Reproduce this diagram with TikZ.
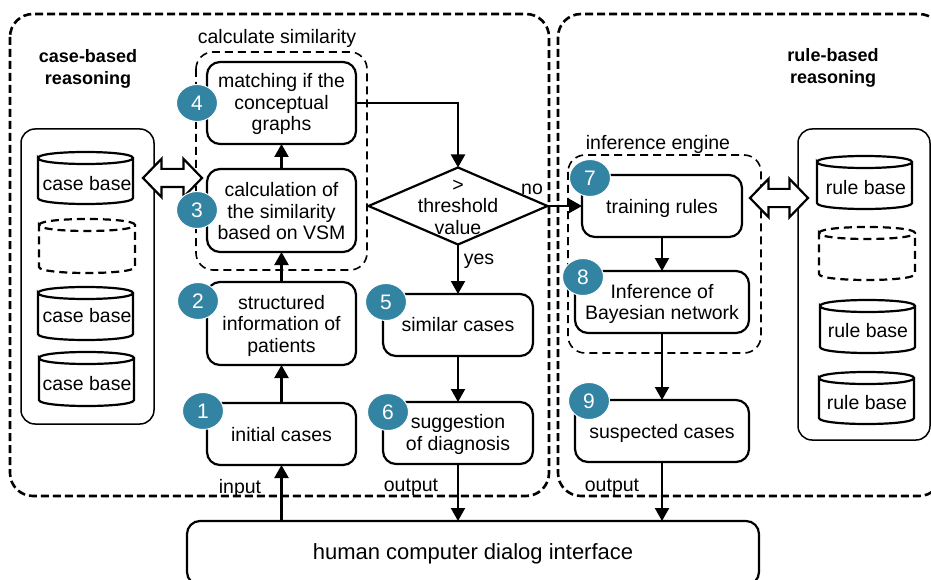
\documentclass[tikz,border=0pt]{standalone}
\usepackage{fontspec}
\setmainfont{Liberation Sans}
\usetikzlibrary{arrows.meta,shapes.geometric,shapes.arrows}
\definecolor{badge}{HTML}{3383A3}
\tikzset{
  rbox/.style={draw=black,line width=2.2pt,rounded corners=13pt,align=center,inner sep=0pt,outer sep=0pt,font=\fontsize{19.5}{21.5}\selectfont},
  txt/.style={align=center,inner sep=0pt,font=\fontsize{19.5}{21.5}\selectfont},
  boldtxt/.style={align=center,inner sep=0pt,font=\fontsize{18}{22}\selectfont\bfseries},
  outerdash/.style={draw=black,line width=2.6pt,rounded corners=23pt,dash pattern=on 8pt off 4pt},
  innerdash/.style={draw=black,line width=1.6pt,rounded corners=17pt,dash pattern=on 8pt off 5pt},
  panel/.style={draw=black,line width=1.5pt,rounded corners=14pt},
  flow/.style={draw=black,line width=2.2pt,-{Triangle[length=13pt,width=14pt]}},
  badgenode/.style={ellipse,fill=badge,draw=white,line width=1pt,minimum width=41pt,minimum height=37pt,inner sep=0pt,text=white,font=\fontsize{21}{24}\selectfont},
  bothways/.style={double arrow,draw=black,fill=white,line width=2.2pt,inner sep=0pt,inner ysep=8pt,minimum height=59pt,minimum width=36pt,double arrow head extend=10pt,double arrow tip angle=92,outer sep=0pt},
  cylsolid/.style={draw=black,line width=2.2pt},
  cyldash/.style={draw=black,line width=2.2pt,dash pattern=on 8pt off 5pt}
}
% x1 x2 y1 y2 style
\newcommand\drum[5]{%
  \draw[#5] (#1,{#3+6}) .. controls (#1,{#3-2}) and (#2,{#3-2}) .. (#2,{#3+6})
     .. controls (#2,{#3+14}) and (#1,{#3+14}) .. (#1,{#3+6})
     -- (#1,{#4-6}) .. controls (#1,{#4+2}) and (#2,{#4+2}) .. (#2,{#4-6}) -- (#2,{#3+6});
}
% push the text of a box down by #1 pt
\newcommand\dn[1]{\rule{0pt}{\dimexpr14.2pt+#1pt*2\relax}}
\begin{document}
\begin{tikzpicture}[x=1pt,y=-1pt]
\clip (0,0) rectangle (931,580);
\fill[white] (0,0) rectangle (931,580);
% outer frames
\draw[outerdash] (10,14) rectangle (549,496);
\draw[outerdash] (558,14) rectangle (942,496);
% inner frames
\draw[innerdash] (196,52) rectangle (367,270);
\draw[innerdash] (568,155) rectangle (761,353);
% panels
\draw[panel] (21,129) rectangle (154,424);
\draw[panel] (798,129) rectangle (930,440);
% drums
\drum{38}{133}{152}{204}{cylsolid}
\drum{39}{135}{219}{273}{cyldash}
\drum{38}{133}{287}{340}{cylsolid}
\drum{39}{134}{352}{406}{cylsolid}
\drum{817}{912}{156}{209}{cylsolid}
\drum{819}{915}{227}{280}{cyldash}
\drum{820}{915}{300}{353}{cylsolid}
\drum{819}{914}{372}{424}{cylsolid}
\node[txt] (cb1) at (87,184) {case base};
\node[txt] (cb2) at (87,316) {case base};
\node[txt] (cb3) at (87,384) {case base};
\node[txt] (rb1) at (866,188) {rule base};
\node[txt] (rb2) at (868,331) {rule base};
\node[txt] (rb3) at (867,403) {rule base};
% boxes
\node[rbox,minimum width=149pt,minimum height=82pt] (b4) at (281.5,103) {\dn{1.3}matching if the\\conceptual\\graphs};
\node[rbox,minimum width=149pt,minimum height=83pt] (b3) at (281.5,210.5) {\dn{0.5}calculation of\\the similarity\\based on VSM};
\node[rbox,minimum width=149pt,minimum height=83pt] (b2) at (281.5,323.5) {\dn{2}structured\\information of\\patients};
\node[rbox,minimum width=149pt,minimum height=62pt] (b1) at (281.5,434) {\dn{0.5}initial cases};
\node[rbox,minimum width=150pt,minimum height=62pt] (b5) at (458,325) {similar cases};
\node[rbox,minimum width=150pt,minimum height=62pt] (b6) at (458,433) {\dn{1.5}suggestion\\of diagnosis};
\node[rbox,minimum width=160pt,minimum height=62pt] (b7) at (662,206) {\dn{2}training rules};
\node[rbox,minimum width=174pt,minimum height=62pt] (b8) at (662,302) {\dn{2}Inference of\\Bayesian network};
\node[rbox,minimum width=174pt,minimum height=62pt] (b9) at (662,431) {\dn{2.5}suspected cases};
\node[rbox,minimum width=572pt,minimum height=64pt,font=\fontsize{22}{26}\selectfont] (iface) at (473,553) {\rule{0pt}{18pt}human computer dialog interface};
\node[diamond,draw=black,line width=2.2pt,minimum width=179pt,minimum height=77pt,inner sep=0pt,outer sep=0pt] (dec) at (458,206) {};
\node[txt] (dectext) at (458,207) {>\\threshold\\value};
% connectors
\draw[flow] (b1.north) -- (b2.south);
\draw[flow] (b2.north) -- (b3.south);
\draw[flow] (b3.north) -- (b4.south);
\draw[flow] (iface.north -| b1.south) -- (b1.south);
\draw[flow] (b4.east) -| (dec.north);
\draw[flow] (dec.south) -- (b5.north);
\draw[flow] (b5.south) -- (b6.north);
\draw[flow] (b6.south) -- (b6.south |- iface.north);
\draw[flow] (dec.east) -- (b7.west);
\draw[flow] (b7.south) -- (b8.north);
\draw[flow] (b8.south) -- (b9.north);
\draw[flow] (b9.south) -- (b9.south |- iface.north);
% double arrows
\node[bothways] (dbl1) at (172.5,178) {};
\node[bothways,minimum height=58pt] (dbl2) at (779,198) {};
% labels
\node[boldtxt] (lcbr) at (88,69) {case-based\\reasoning};
\node[boldtxt] (lrbr) at (833,68) {rule-based\\reasoning};
\node[txt] (lcs) at (277,38) {calculate similarity};
\node[txt] (lie) at (658,144) {inference engine};
\node[txt] (lno) at (532,189) {no};
\node[txt] (lyes) at (479,261.5) {yes};
\node[txt] (lin) at (240,488) {input};
\node[txt] (lout1) at (411,487) {output};
\node[txt] (lout2) at (612,487) {output};
% badges
\node[badgenode] (n1) at (203,411) {1};
\node[badgenode] (n2) at (198,301) {2};
\node[badgenode] (n3) at (197,210) {3};
\node[badgenode] (n4) at (197,103) {4};
\node[badgenode] (n5) at (386,302) {5};
\node[badgenode] (n6) at (388,412) {6};
\node[badgenode] (n7) at (590,178) {7};
\node[badgenode] (n8) at (583,277) {8};
\node[badgenode] (n9) at (589,401) {9};
\end{tikzpicture}
\end{document}
